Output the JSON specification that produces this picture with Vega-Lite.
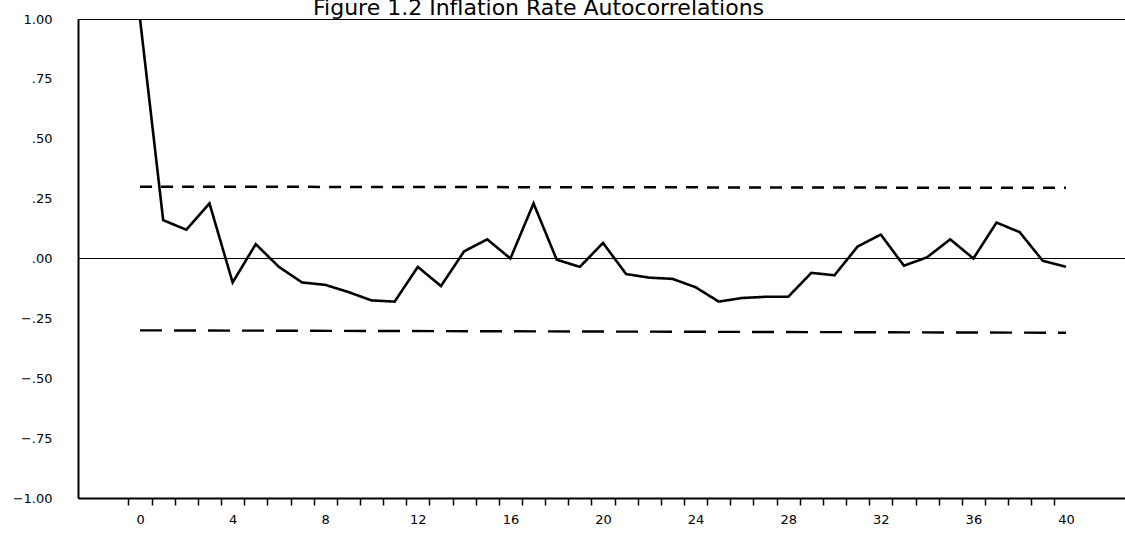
{
  "$schema": "https://vega.github.io/schema/vega-lite/v6.json",
  "width": 1050,
  "height": 479,
  "autosize": "none",
  "padding": {"left": 78, "top": 19, "right": 0, "bottom": 36},
  "background": "white",
  "title": {
    "text": "Figure 1.2  Inflation Rate Autocorrelations",
    "font": "DejaVu Sans",
    "fontSize": 22,
    "fontWeight": "normal",
    "color": "black",
    "anchor": "start",
    "frame": "group",
    "dx": 235,
    "dy": 7,
    "offset": 0
  },
  "config": {
    "view": {"stroke": "black", "strokeWidth": 1},
    "axis": {"labelFont": "DejaVu Sans", "labelFontSize": 13, "labelColor": "black", "grid": false, "domainColor": "black", "tickColor": "black", "title": null}
  },
  "data": {
    "values": [
      {"lag": 0, "r": 1.0, "series": "acf"},
      {"lag": 1, "r": 0.16, "series": "acf"},
      {"lag": 2, "r": 0.12, "series": "acf"},
      {"lag": 3, "r": 0.23, "series": "acf"},
      {"lag": 4, "r": -0.10, "series": "acf"},
      {"lag": 5, "r": 0.06, "series": "acf"},
      {"lag": 6, "r": -0.035, "series": "acf"},
      {"lag": 7, "r": -0.10, "series": "acf"},
      {"lag": 8, "r": -0.11, "series": "acf"},
      {"lag": 9, "r": -0.14, "series": "acf"},
      {"lag": 10, "r": -0.175, "series": "acf"},
      {"lag": 11, "r": -0.18, "series": "acf"},
      {"lag": 12, "r": -0.035, "series": "acf"},
      {"lag": 13, "r": -0.115, "series": "acf"},
      {"lag": 14, "r": 0.03, "series": "acf"},
      {"lag": 15, "r": 0.08, "series": "acf"},
      {"lag": 16, "r": 0.0, "series": "acf"},
      {"lag": 17, "r": 0.23, "series": "acf"},
      {"lag": 18, "r": -0.005, "series": "acf"},
      {"lag": 19, "r": -0.035, "series": "acf"},
      {"lag": 20, "r": 0.065, "series": "acf"},
      {"lag": 21, "r": -0.065, "series": "acf"},
      {"lag": 22, "r": -0.08, "series": "acf"},
      {"lag": 23, "r": -0.085, "series": "acf"},
      {"lag": 24, "r": -0.12, "series": "acf"},
      {"lag": 25, "r": -0.18, "series": "acf"},
      {"lag": 26, "r": -0.165, "series": "acf"},
      {"lag": 27, "r": -0.16, "series": "acf"},
      {"lag": 28, "r": -0.16, "series": "acf"},
      {"lag": 29, "r": -0.06, "series": "acf"},
      {"lag": 30, "r": -0.07, "series": "acf"},
      {"lag": 31, "r": 0.05, "series": "acf"},
      {"lag": 32, "r": 0.10, "series": "acf"},
      {"lag": 33, "r": -0.03, "series": "acf"},
      {"lag": 34, "r": 0.005, "series": "acf"},
      {"lag": 35, "r": 0.08, "series": "acf"},
      {"lag": 36, "r": 0.0, "series": "acf"},
      {"lag": 37, "r": 0.15, "series": "acf"},
      {"lag": 38, "r": 0.11, "series": "acf"},
      {"lag": 39, "r": -0.01, "series": "acf"},
      {"lag": 40, "r": -0.035, "series": "acf"},
      {"lag": 0, "r": 0.30, "series": "upper"},
      {"lag": 40, "r": 0.295, "series": "upper"},
      {"lag": 0, "r": -0.30, "series": "lower"},
      {"lag": 40, "r": -0.31, "series": "lower"}
    ]
  },
  "encoding": {
    "x": {
      "field": "lag",
      "type": "quantitative",
      "scale": {"domain": [-2.68, 42.68], "nice": false, "zero": false},
      "axis": {
        "values": [-0.5, 0.5, 1.5, 2.5, 3.5, 4.5, 5.5, 6.5, 7.5, 8.5, 9.5, 10.5, 11.5, 12.5, 13.5, 14.5, 15.5, 16.5, 17.5, 18.5, 19.5, 20.5, 21.5, 22.5, 23.5, 24.5, 25.5, 26.5, 27.5, 28.5, 29.5, 30.5, 31.5, 32.5, 33.5, 34.5, 35.5, 36.5, 37.5, 38.5, 39.5, 0, 4, 8, 12, 16, 20, 24, 28, 32, 36, 40],
        "labelExpr": "datum.value % 1 === 0 ? datum.label : ''",
        "labelOverlap": false,
        "labelFlush": false,
        "tickSize": 7,
        "tickWidth": 1.5,
        "tickOpacity": {"condition": {"test": "datum.value % 1 === 0", "value": 0}, "value": 1},
        "labelPadding": 8,
        "domainWidth": 2
      }
    },
    "y": {
      "field": "r",
      "type": "quantitative",
      "scale": {"domain": [-1, 1], "nice": false, "zero": false},
      "axis": {
        "values": [-1, -0.75, -0.5, -0.25, 0, 0.25, 0.5, 0.75, 1],
        "labelExpr": "replace(format(datum.value, '.2f'), '0.', '.')",
        "ticks": false,
        "tickSize": 0,
        "labelPadding": 26,
        "labelFlush": false,
        "domainWidth": 2
      }
    }
  },
  "layer": [
    {
      "mark": {"type": "rule", "color": "black", "strokeWidth": 1},
      "encoding": {"y": {"datum": 0}, "x": null}
    },
    {
      "mark": {"type": "line", "color": "black", "strokeJoin": "miter"},
      "encoding": {
        "strokeDash": {
          "field": "series",
          "type": "nominal",
          "scale": {"domain": ["acf", "upper", "lower"], "range": [[1, 0], [12, 9], [22, 12]]},
          "legend": null
        },
        "strokeWidth": {
          "field": "series",
          "type": "nominal",
          "scale": {"domain": ["acf", "upper", "lower"], "range": [2.6, 2.4, 2.6]},
          "legend": null
        }
      }
    }
  ]
}
